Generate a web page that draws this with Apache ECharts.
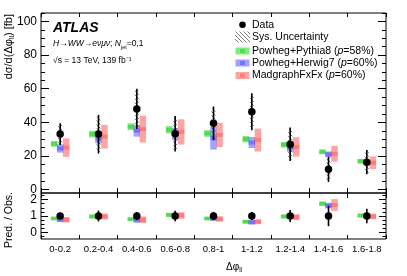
<!DOCTYPE html>
<html><head><meta charset="utf-8">
<script src="https://cdn.jsdelivr.net/npm/echarts@6/dist/echarts.min.js"></script>
<style>html,body{margin:0;padding:0;background:#fff}#c{width:407px;height:276px}</style>
</head><body><div id="c"></div><script>
const categories = ['0-0.2','0.2-0.4','0.4-0.6','0.6-0.8','0.8-1','1-1.2','1.2-1.4','1.4-1.6','1.6-1.8'];
const dataVals   = [33, 33, 48, 33.2, 39.4, 46.3, 27, 12.1, 16.3];
const dataErr    = [6.5, 11.5, 12, 10.5, 10, 11, 10, 7.5, 7.2];
const dataSys    = [5.8, 10.5, 11, 9.5, 9, 10, 9, 6.5, 6.3];
const pythia     = [27.2, 33, 37.4, 35.6, 33.4, 30, 26.7, 22.5, 16.9];
const pythiaErr  = [1.7, 2, 2, 2.2, 2, 1.9, 1.7, 1.4, 1.4];
const herwig     = [24.5, 30.5, 35, 33, 30.5, 28, 25, 21, 16];
const herwigErr  = [2.5, 3, 3.5, 3.5, 6.7, 3.3, 2.5, 1.7, 1.5];
const madgraph   = [25, 31.5, 36, 34.3, 32.5, 29.5, 25.4, 21.3, 16];
const madgraphErr= [5.5, 7, 8, 7.5, 7.2, 6.8, 5.8, 4.7, 3.7];
const ratioData    = [1, 1, 1, 1, 1, 1, 1, 1, 1];
const ratioDataErr = [0.2, 0.33, 0.25, 0.32, 0.25, 0.24, 0.37, 0.62, 0.44];
const ratioPythia    = [0.85, 0.97, 0.81, 1.07, 0.85, 0.65, 0.97, 1.75, 1.03];
const ratioPythiaErr = [0.1, 0.12, 0.1, 0.12, 0.1, 0.11, 0.12, 0.13, 0.12];
const ratioHerwig    = [0.77, 0.95, 0.74, 1.0, 0.87, 0.62, 0.95, 1.63, 0.99];
const ratioHerwigErr = [0.13, 0.15, 0.14, 0.15, 0.18, 0.14, 0.13, 0.17, 0.13];
const ratioMad       = [0.77, 0.97, 0.77, 1.03, 0.82, 0.65, 0.93, 1.67, 0.97];
const ratioMadErr    = [0.17, 0.18, 0.2, 0.2, 0.17, 0.15, 0.18, 0.36, 0.17];
const mainLabels = [0, 20, 40, 60, 80, 100];
const mainMinor  = [5,10,15,25,30,35,45,50,55,65,70,75,85,90,95,105];
const ratioLabels = [0, 1, 2];
const ratioMinor  = [-0.25,0.25,0.5,0.75,1.25,1.5,1.75,2.25];

const FONT = 'Liberation Sans, Arial, sans-serif';
const COL = {
  g: ['rgba(0,220,0,0.5)', 'rgba(0,190,0,0.35)'],
  b: ['rgba(50,50,255,0.45)', 'rgba(30,30,255,0.35)'],
  r: ['rgba(255,50,50,0.45)', 'rgba(255,30,30,0.3)']
};

const pc = document.createElement('canvas'); pc.width = 4; pc.height = 4;
const pg = pc.getContext('2d');
pg.strokeStyle = '#444'; pg.lineWidth = 0.7;
pg.beginPath(); pg.moveTo(0,0); pg.lineTo(4,4); pg.moveTo(-1,3); pg.lineTo(1,5); pg.moveTo(3,-1); pg.lineTo(5,1); pg.stroke();
const hatch = {image: pc, repeat: 'repeat'};

function boxSeries(xi, yi, vals, errs, off, cols) {
  return {
    type: 'custom', xAxisIndex: xi, yAxisIndex: yi,
    data: vals.map((v, i) => [i, v, errs[i]]),
    renderItem: function (params, api) {
      const x = api.value(0), c = api.value(1), e = api.value(2);
      const p = api.coord([x, c]), t = api.coord([x, c + e]), b = api.coord([x, c - e]);
      const w = 6.5, cx = p[0] + off;
      return {type: 'group', children: [
        {type: 'rect', shape: {x: cx - w/2, y: t[1], width: w, height: b[1] - t[1]}, style: {fill: cols[0]}},
        {type: 'rect', shape: {x: cx - w/2, y: p[1] - 2, width: w, height: 4}, style: {fill: cols[1]}}
      ]};
    }
  };
}
function errSeries(xi, yi, vals, errs, sys) {
  return {
    type: 'custom', xAxisIndex: xi, yAxisIndex: yi,
    data: vals.map((v, i) => [i, v, errs[i], sys ? sys[i] : 0]),
    renderItem: function (params, api) {
      const x = api.value(0), c = api.value(1), e = api.value(2), s = api.value(3);
      const t = api.coord([x, c + e]), b = api.coord([x, c - e]);
      const ch = [];
      if (s > 0) {
        const st = api.coord([x, c + s]), sb = api.coord([x, c - s]);
        ch.push({type: 'rect', shape: {x: st[0] - 2, y: st[1], width: 4, height: sb[1] - st[1]}, style: {fill: hatch}});
      }
      ch.push({type: 'line', shape: {x1: t[0], y1: t[1], x2: b[0], y2: b[1]}, style: {stroke: '#000', lineWidth: 1.6}});
      return {type: 'group', children: ch};
    }
  };
}
function dotSeries(xi, yi, vals) {
  return {type: 'scatter', xAxisIndex: xi, yAxisIndex: yi, symbolSize: 7.5,
    itemStyle: {color: '#000', opacity: 1}, data: vals.map((v, i) => [i, v]), z: 5};
}
function xAx(grid, pos, len, showLabel) {
  return {type: 'category', data: categories, gridIndex: grid, position: pos, boundaryGap: true,
    axisLine: {show: false, onZero: false},
    axisTick: {show: true, inside: true, length: len, interval: 0, lineStyle: {color: '#000', width: 1}},
    axisLabel: {show: showLabel, interval: 0, margin: 5, color: '#000', fontSize: 9.5, fontFamily: FONT},
    splitLine: {show: false}};
}
function yAx(grid, pos, min, max, ticks, len, labels) {
  return {type: 'value', gridIndex: grid, position: pos, min: min, max: max,
    axisLine: {show: false, onZero: false}, splitLine: {show: false},
    axisTick: {show: true, inside: true, length: len, customValues: ticks, lineStyle: {color: '#000', width: 1}},
    axisLabel: labels ? {show: true, customValues: labels, margin: 4, color: '#000', fontSize: 12, fontFamily: FONT}
                      : {show: false}};
}

const chart = echarts.init(document.getElementById('c'), null, {renderer: 'canvas'});
chart.setOption({
  animation: false,
  grid: [
    {left: 41, right: 21, top: 13, height: 180, show: true, borderColor: '#000', borderWidth: 1, backgroundColor: 'transparent'},
    {left: 41, right: 21, top: 193, height: 46, show: true, borderColor: '#000', borderWidth: 1, backgroundColor: 'transparent'}
  ],
  xAxis: [xAx(0, 'bottom', 5, false), xAx(0, 'top', 4, false), xAx(1, 'bottom', 4, true), xAx(1, 'top', 5, false)],
  yAxis: [
    yAx(0, 'left', -2, 105, mainLabels, 8, mainLabels),
    yAx(0, 'left', -2, 105, mainMinor, 4, null),
    yAx(0, 'right', -2, 105, mainLabels, 8, null),
    yAx(0, 'right', -2, 105, mainMinor, 4, null),
    yAx(1, 'left', -0.4, 2.4, ratioLabels, 7, ratioLabels),
    yAx(1, 'left', -0.4, 2.4, ratioMinor, 3.5, null),
    yAx(1, 'right', -0.4, 2.4, ratioLabels, 7, null),
    yAx(1, 'right', -0.4, 2.4, ratioMinor, 3.5, null)
  ],
  series: [
    boxSeries(0, 0, pythia, pythiaErr, -6, COL.g),
    boxSeries(0, 0, herwig, herwigErr, 0, COL.b),
    boxSeries(0, 0, madgraph, madgraphErr, 6, COL.r),
    errSeries(0, 0, dataVals, dataErr, dataSys),
    dotSeries(0, 0, dataVals),
    boxSeries(2, 4, ratioPythia, ratioPythiaErr, -6, COL.g),
    boxSeries(2, 4, ratioHerwig, ratioHerwigErr, 0, COL.b),
    boxSeries(2, 4, ratioMad, ratioMadErr, 6, COL.r),
    errSeries(2, 4, ratioData, ratioDataErr, null),
    dotSeries(2, 4, ratioData)
  ],
  graphic: [
    {type: 'text', x: 9, y: 14, rotation: Math.PI/2, style: {
      text: '{a|dσ/d(Δφ}{s|ll}{a|) [fb]}', align: 'right', verticalAlign: 'middle',
      rich: {a: {fontSize: 11, fontFamily: FONT, lineHeight: 14, fill: '#000'}, s: {fontSize: 7, fontFamily: FONT, verticalAlign: 'bottom', lineHeight: 14, fill: '#000'}}}},
    {type: 'text', x: 9, y: 220, rotation: Math.PI/2, style: {
      text: 'Pred. / Obs.', align: 'center', verticalAlign: 'middle', fontSize: 10.5, fontFamily: FONT, fill: '#000'}},
    {type: 'text', x: 234, y: 267, style: {
      text: '{a|Δφ}{s|ll}', align: 'center', verticalAlign: 'middle',
      rich: {a: {fontSize: 10, fontFamily: FONT, lineHeight: 13, fill: '#000'}, s: {fontSize: 6.5, fontFamily: FONT, verticalAlign: 'bottom', lineHeight: 13, fill: '#000'}}}},
    {type: 'text', x: 53, y: 28, style: {text: 'ATLAS', fontSize: 14, fontStyle: 'italic', fontWeight: 'bold', fontFamily: FONT, fill: '#000', verticalAlign: 'middle'}},
    {type: 'text', x: 53, y: 44, style: {
      text: '{i|H}{n|→}{i|WW}{n|→}{i|eνμν}{n|; }{i|N}{s|jet}{n|=0,1}', verticalAlign: 'middle',
      rich: {n: {fontSize: 8.5, fontFamily: FONT, lineHeight: 12, fill: '#000'},
             i: {fontSize: 8.5, fontFamily: FONT, fontStyle: 'italic', lineHeight: 12, fill: '#000'},
             s: {fontSize: 5.5, fontFamily: FONT, verticalAlign: 'bottom', lineHeight: 12, fill: '#000'}}}},
    {type: 'text', x: 53, y: 61, style: {text: '√s = 13 TeV, 139 fb⁻¹', fontSize: 8.5, fontFamily: FONT, fill: '#000', verticalAlign: 'middle'}},
    {type: 'circle', shape: {cx: 242.5, cy: 24.7, r: 3.3}, style: {fill: '#000'}},
    {type: 'text', x: 252, y: 24.7, style: {text: 'Data', fontSize: 10.5, fontFamily: FONT, fill: '#000', verticalAlign: 'middle'}},
    {type: 'rect', shape: {x: 235, y: 31.5, width: 15, height: 11}, style: {fill: hatch}},
    {type: 'text', x: 252, y: 37, style: {text: 'Sys. Uncertainty', fontSize: 10.5, fontFamily: FONT, fill: '#000', verticalAlign: 'middle'}},
    {type: 'rect', shape: {x: 235.5, y: 47.5, width: 14, height: 7}, style: {fill: COL.g[0]}},
    {type: 'rect', shape: {x: 240, y: 49, width: 5, height: 4}, style: {fill: COL.g[1]}},
    {type: 'text', x: 252, y: 51, style: {text: '{n|Powheg+Pythia8 (}{i|p}{n|=58%)}', verticalAlign: 'middle',
      rich: {n: {fontSize: 10.5, fontFamily: FONT, fill: '#000'}, i: {fontSize: 10.5, fontFamily: FONT, fontStyle: 'italic', fill: '#000'}}}},
    {type: 'rect', shape: {x: 235.5, y: 59.5, width: 14, height: 7}, style: {fill: COL.b[0]}},
    {type: 'rect', shape: {x: 240, y: 61, width: 5, height: 4}, style: {fill: COL.b[1]}},
    {type: 'text', x: 252, y: 63, style: {text: '{n|Powheg+Herwig7 (}{i|p}{n|=60%)}', verticalAlign: 'middle',
      rich: {n: {fontSize: 10.5, fontFamily: FONT, fill: '#000'}, i: {fontSize: 10.5, fontFamily: FONT, fontStyle: 'italic', fill: '#000'}}}},
    {type: 'rect', shape: {x: 235.5, y: 72, width: 14, height: 7}, style: {fill: COL.r[0]}},
    {type: 'rect', shape: {x: 240, y: 73.5, width: 5, height: 4}, style: {fill: COL.r[1]}},
    {type: 'text', x: 252, y: 75.5, style: {text: '{n|MadgraphFxFx (}{i|p}{n|=60%)}', verticalAlign: 'middle',
      rich: {n: {fontSize: 10.5, fontFamily: FONT, fill: '#000'}, i: {fontSize: 10.5, fontFamily: FONT, fontStyle: 'italic', fill: '#000'}}}}
  ]
});
</script></body></html>
